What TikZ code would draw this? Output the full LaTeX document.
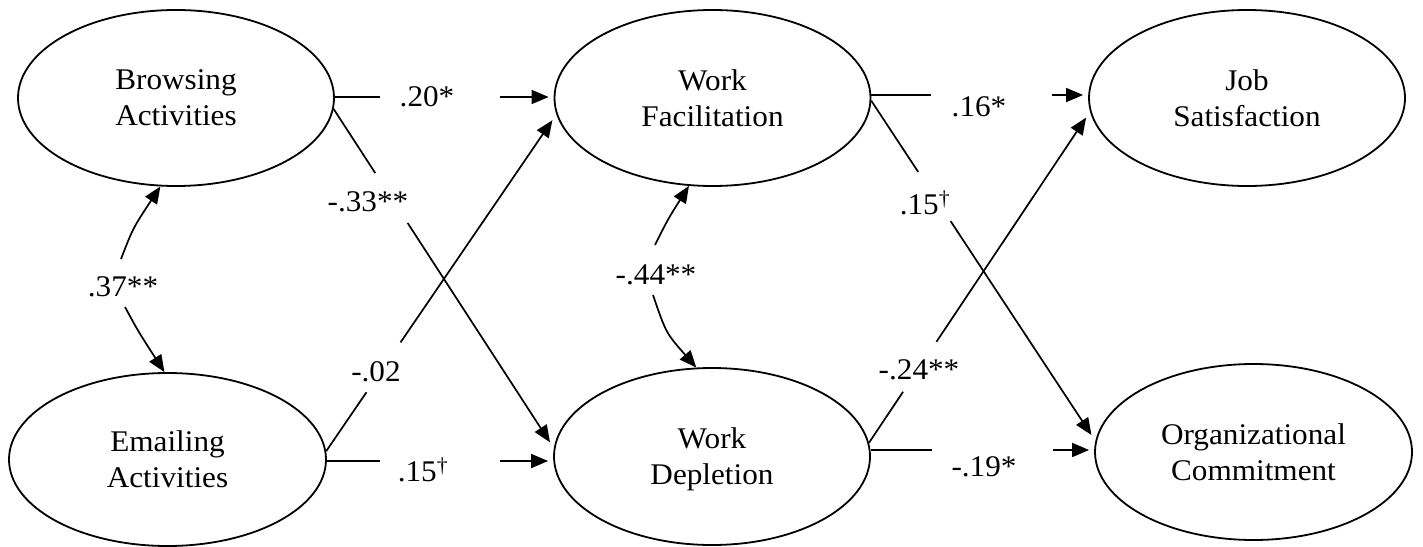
\documentclass[tikz,border=0pt]{standalone}
\usepackage{fontspec}
\setmainfont{Liberation Serif}[FakeStretch=1.04]
\usetikzlibrary{shapes.geometric,arrows.meta}
\begin{document}
\begin{tikzpicture}[x=1pt,y=-1pt,
  every node/.style={font=\fontsize{30}{36}\selectfont},
  latent/.style={draw, ellipse, line width=1.8pt, inner sep=0pt, align=center, text depth=0pt},
  lbl/.style={inner sep=0pt},
  conn/.style={line width=1.7pt},
  arr/.style={conn, -{Triangle[length=17pt,width=14pt]}}
]
\fill[white] (0,0) rectangle (1423,546);
\useasboundingbox (0,0) rectangle (1423,546);

% latent variables
\node[latent, minimum width=316pt, minimum height=176pt] (B)  at (176,98)     {Browsing\\Activities};
\node[latent, minimum width=317pt, minimum height=173pt] (E)  at (167.5,459.5) {Emailing\\Activities};
\node[latent, minimum width=316pt, minimum height=176pt] (WF) at (712.5,98)   {Work\\Facilitation};
\node[latent, minimum width=316pt, minimum height=177pt] (WD) at (712,456.5)  {Work\\Depletion};
\node[latent, minimum width=316pt, minimum height=176pt] (JS) at (1247,98)    {Job\\Satisfaction};
\node[latent, minimum width=317pt, minimum height=176pt] (O)  at (1253.5,452) {Organizational\\Commitment};

% path labels
\node[lbl] (l20) at (427,97)  {.20*};
\node[lbl] (l33) at (368,202) {-.33**};
\node[lbl] (l02) at (376,372) {-.02};
\node[lbl] (l15a) at (423,470) {.15\textsuperscript{\textdagger}};
\node[lbl] (l16) at (979,107) {.16*};
\node[lbl] (l15b) at (925,203) {.15\textsuperscript{\textdagger}};
\node[lbl] (l24) at (919,370) {-.24**};
\node[lbl] (l19) at (984,467) {-.19*};
\node[lbl] (l37) at (123,287) {.37**};
\node[lbl] (l44) at (656,275) {-.44**};

% horizontal paths
\coordinate (h1a) at (380,97);  \coordinate (h1b) at (500,97);
\draw[conn] (B.east |- h1a) -- (h1a);
\draw[arr, shorten >=5pt] (h1b) -- (WF.west |- h1b);

\coordinate (h2a) at (380,461); \coordinate (h2b) at (500,461);
\draw[conn] (E.east |- h2a) -- (h2a);
\draw[arr, shorten >=5pt] (h2b) -- (WD.west |- h2b);

\coordinate (h3a) at (931,95);  \coordinate (h3b) at (1052,95);
\draw[conn] (WF.east |- h3a) -- (h3a);
\draw[arr, shorten >=5pt] (h3b) -- (JS.west |- h3b);

\coordinate (h4a) at (932,450); \coordinate (h4b) at (1053,450);
\draw[conn] (WD.east |- h4a) -- (h4a);
\draw[arr, shorten >=5pt] (h4b) -- (O.west |- h4b);

% diagonal paths
\path (B.-4) -- (WD.177) coordinate[pos=0.189] (d1a) coordinate[pos=0.336] (d1b);
\draw[conn] (B.-4) -- (d1a);
\draw[arr, shorten >=7pt] (d1b) -- (WD.177);

\path (E.3) -- (WF.186) coordinate[pos=0.175] (d2a) coordinate[pos=0.323] (d2b);
\draw[conn] (E.3) -- (d2a);
\draw[arr, shorten >=7pt] (d2b) -- (WF.186);

\path (WF.-1.5) -- (O.176) coordinate[pos=0.209] (d3a) coordinate[pos=0.354] (d3b);
\draw[conn] (WF.-1.5) -- (d3a);
\draw[arr, shorten >=7pt] (d3b) -- (O.176);

\path (WD.5) -- (JS.185) coordinate[pos=0.154] (d4a) coordinate[pos=0.305] (d4b);
\draw[conn] (WD.5) -- (d4a);
\draw[arr, shorten >=7pt] (d4b) -- (JS.185);

% correlations
\coordinate (c37a) at (121,259); \coordinate (c37b) at (125,307);
\draw[arr] (c37a) .. controls (133,228) .. (B.-100);
\draw[arr] (c37b) .. controls (138,331) .. (E.92);

\coordinate (c44a) at (655,245); \coordinate (c44b) at (653,295);
\draw[arr] (c44a) .. controls (668,219) .. (WF.-105);
\draw[arr] (c44b) .. controls (666,333) .. (WD.100);
\end{tikzpicture}
\end{document}
